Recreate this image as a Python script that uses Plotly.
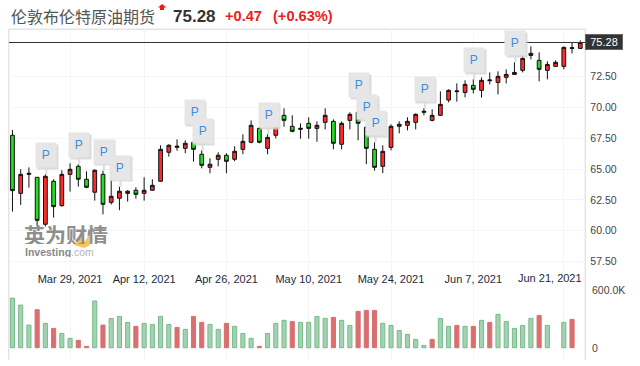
import plotly.graph_objects as go

W, H = 640, 366

TITLE = "伦敦布伦特原油期货"
LAST = 75.28
CHANGE = "+0.47"
CHANGE_PCT = "(+0.63%)"

highs = [68.18,64.99,65.15,64.34,64.58,64.18,64.91,65.48,65.40,64.83,64.99,64.88,64.26,63.58,63.29,63.53,64.34,64.18,66.94,67.02,
         67.42,67.34,68.07,66.53,65.88,66.37,66.29,66.86,67.83,68.96,68.40,67.83,68.99,69.94,69.37,68.72,69.21,68.88,69.94,69.04,
         68.88,69.61,70.26,68.48,67.18,66.94,68.64,68.88,69.21,69.53,69.94,69.86,71.31,71.48,71.96,72.21,72.29,72.45,72.85,72.94,
         73.10,73.67,74.31,74.96,74.48,73.75,73.83,74.96,75.29,75.45]
lows = [61.56,62.10,63.50,60.34,60.34,61.07,61.96,63.18,63.58,63.45,62.45,61.34,62.13,61.67,62.37,62.61,62.45,63.26,63.99,66.02,
        66.50,66.29,65.61,65.07,64.67,65.23,64.67,65.64,66.21,67.10,67.10,66.21,67.50,68.45,67.99,67.48,67.48,67.23,68.23,66.61,
        66.61,68.23,67.34,65.40,64.88,64.67,66.53,67.91,68.15,68.23,69.37,68.88,69.34,70.42,70.48,70.83,71.15,70.80,71.88,71.07,
        71.96,72.67,72.85,73.91,72.13,72.29,73.34,73.10,74.40,74.80]
opens = [67.75,63.04,64.58,64.34,60.53,64.02,62.04,64.58,65.23,64.18,63.13,64.58,62.31,62.64,63.04,63.29,63.04,63.29,64.02,66.37,
         66.77,66.69,67.18,66.21,65.15,65.80,66.13,65.80,66.61,67.18,68.31,66.69,67.75,69.37,68.48,68.23,68.72,68.31,68.80,68.88,
         67.02,68.96,69.61,68.40,66.61,65.23,66.77,68.48,68.56,68.80,69.61,68.96,69.37,70.61,71.29,71.23,71.80,71.40,72.18,72.04,
         72.45,72.69,73.02,74.23,73.83,73.02,73.34,73.34,74.80,74.80]
closes = [63.26,64.58,64.66,60.85,64.42,61.96,64.58,64.99,64.18,63.53,64.91,62.15,62.80,63.21,63.21,62.96,63.29,63.69,66.61,66.94,
          66.86,67.10,66.61,65.31,65.40,66.13,65.64,66.45,67.26,68.56,67.18,67.58,68.56,68.96,68.07,68.31,68.31,68.56,69.37,67.10,
          68.72,69.45,68.72,66.69,65.15,66.45,68.48,68.64,68.88,69.45,69.69,69.37,70.26,71.40,71.34,71.88,71.48,72.21,72.23,72.53,
          72.69,72.85,73.99,74.40,73.10,73.50,73.67,74.88,74.85,75.28]

# volumes in thousands; None where no volume was drawn
volume_k = [513,441,234,393,252,200,148,97,76,14,483,234,303,324,262,221,252,241,324,241,
            210,190,324,262,241,190,252,221,148,97,14,148,252,283,272,262,262,324,303,314,
            283,231,376,386,386,252,231,179,138,86,24,86,303,221,231,221,221,283,262,345,
            272,200,231,303,334,231,None,262,293,None]
volume_up = [0,0,0,1,0,1,0,0,1,1,0,1,0,0,0,1,0,0,0,0,
             1,0,1,1,0,0,1,0,0,0,1,0,0,0,1,0,0,0,0,1,
             0,0,1,1,1,0,0,0,0,0,0,1,0,0,1,0,1,0,1,0,
             0,0,0,0,1,0,0,0,1,0]

tick_index = [7, 16, 26, 36, 46, 56, 67]
tick_labels = ["Mar 29, 2021", "Apr 12, 2021", "Apr 26, 2021", "May 10, 2021", "May 24, 2021", "Jun 7, 2021", "Jun 21, 2021"]
price_ticks = [57.5, 60, 62.5, 65, 67.5, 70, 72.5]
volume_ticks = [0, 600000]
volume_tick_labels = ["0", "600.0K"]
event_index = [4, 8, 11, 13, 22, 23, 31, 42, 43, 44, 50, 56, 61]

idx = list(range(len(closes)))
RED, GREEN = "#ff2b2b", "#22dd22"
GRID = "#f5f5f5"

fig = go.Figure()
fig.add_trace(go.Candlestick(
    x=idx, open=opens, high=highs, low=lows, close=closes, yaxis="y", xaxis="x",
    increasing=dict(line=dict(color="#111", width=1), fillcolor=RED),
    decreasing=dict(line=dict(color="#111", width=1), fillcolor=GREEN),
    whiskerwidth=0, showlegend=False))
fig.add_trace(go.Bar(
    x=idx, y=[None if v is None else v * 1000 for v in volume_k], yaxis="y2", xaxis="x", width=0.5,
    marker=dict(color=["#d96f6f" if u else "#a2d3ae" for u in volume_up],
                line=dict(color=["#d96f6f" if u else "#78b98c" for u in volume_up], width=1)),
    showlegend=False))


def py(y):
    return 1 - y / H


fig.update_layout(
    template="none",
    width=W, height=H, margin=dict(l=0, r=0, t=0, b=0), autosize=False,
    paper_bgcolor="white", plot_bgcolor="white", boxgap=0.35, bargap=0.4,
    font=dict(family="Liberation Sans", size=11, color="#333"),
    xaxis=dict(domain=[9 / W, 585.3 / W], range=[-0.42, 69.61], anchor="y", showgrid=True, gridcolor=GRID, gridwidth=1,
               tickmode="array", tickvals=tick_index, ticktext=tick_labels[:-1] + [""],
               ticklabelposition="inside", ticks="", showline=False, zeroline=False, rangeslider=dict(visible=False),
               tickfont=dict(family="Liberation Sans", size=11, color="#1d2a3a"), ticklabelstandoff=2),
    yaxis=dict(domain=[py(289.7), py(29.3)], range=[55.22, 76.35], side="right", anchor="x", tickmode="array",
               tickvals=price_ticks, ticktext=[f"{v:.2f}" for v in price_ticks], showgrid=True, gridcolor=GRID,
               zeroline=False, showline=False, ticks="", tickfont=dict(size=10.5, color="#444"), ticklabelstandoff=4),
    yaxis2=dict(domain=[py(360), py(289.7)], range=[-127000, 600000], side="right", anchor="x", tickmode="array",
                tickvals=volume_ticks, ticktext=["", ""], showgrid=True, gridcolor=GRID, zeroline=False,
                showline=False, ticks=""),
)

# frame
for s in [
    dict(x0=8.7, x1=8.7, y0=29, y1=360), dict(x0=585.3, x1=585.3, y0=29, y1=360), dict(x0=8.7, x1=585.3, y0=29.3, y1=29.3),
]:
    fig.add_shape(type="line", xref="paper", yref="paper", x0=s["x0"] / W, x1=s["x1"] / W, y0=py(s["y0"]), y1=py(s["y1"]),
                  line=dict(color="#e4e4e4", width=1.5), layer="below")
fig.add_shape(type="line", xref="paper", yref="y", x0=9 / W, x1=585 / W, y0=LAST, y1=LAST, line=dict(color="#333", width=1))
# up arrow icon
fig.add_shape(type="path", xref="paper", yref="paper", fillcolor="#f01a1a", line=dict(width=0),
              path="M {} {} L {} {} L {} {} L {} {} L {} {} L {} {} L {} {} Z".format(
                  158 / W, py(7.6), 162 / W, py(4), 166.5 / W, py(7.6), 164 / W, py(7.6), 164 / W, py(10), 160 / W, py(10), 160 / W, py(7.6)))
# watermark orange stroke
fig.add_shape(type="path", xref="paper", yref="paper", fillcolor="#f7c35f", line=dict(width=0), layer="above",
              path="M {} {} L {} {} L {} {} L {} {} L {} {} L {} {} Z".format(
                  74 / W, py(245), 82 / W, py(236), 85 / W, py(242), 93 / W, py(226), 90 / W, py(245), 84 / W, py(248)))


def note(text, x, y, size, color, family="Liberation Sans", bold=False, anchor="left", height=None):
    fig.add_annotation(xref="paper", yref="paper", x=x / W, y=py(y), text=f"<b>{text}</b>" if bold else text, showarrow=False,
                       xanchor=anchor, yanchor="middle", align="left", height=height, font=dict(size=size, color=color, family=family))


note(TITLE, 8.5, 16, 16, "#555", "Noto Sans CJK SC")
note(f"{LAST:.2f}", 170.5, 16.5, 17, "#333", bold=True)
note(CHANGE, 222.5, 16.5, 14.6, "#f01c1c", bold=True)
note(CHANGE_PCT, 270.5, 16.5, 14.6, "#f01c1c", bold=True)
note("英为财情", 21.5, 234, 21, "#8e8e8e", "Noto Sans CJK SC", bold=True, height=20)
note("<b>Investing</b><span style='color:#b5b5b5'>.com</span>", 22.5, 251, 10.5, "#888", height=11)
note(tick_labels[-1], 584, 278, 11, "#1d2a3a", anchor="right")

for v, t in zip(volume_ticks, volume_tick_labels):
    fig.add_annotation(xref="paper", yref="y2", x=589.5 / W, y=v, text=t, showarrow=False, xanchor="left", yanchor="middle",
                       font=dict(size=10.5, color="#444"))

fig.add_annotation(xref="paper", yref="y", x=584.5 / W, y=LAST, text=f"{LAST:.2f}", showarrow=False, xanchor="left", yanchor="middle",
                   width=37, height=15, bgcolor="#333", bordercolor="#666", borderwidth=0.5, borderpad=0,
                   font=dict(size=11, color="white"))

for i in event_index:
    common = dict(x=i, y=highs[i], xref="x", yref="y", width=17.5, height=22)
    fig.add_annotation(**common, text=" ", xshift=2.5, yshift=17.5, bgcolor="#d3d3d3", showarrow=False, opacity=0.8)
    fig.add_annotation(**common, text="P", ax=0, ay=-19, axref="pixel", ayref="pixel", xshift=1, bgcolor="#e6e6e6", showarrow=True,
                       arrowhead=0, arrowwidth=2, arrowcolor="#dcdcdc", standoff=0,
                       font=dict(size=12, color="#3c8ddd", family="Liberation Sans"))

fig.write_html("out.html", config=dict(displayModeBar=False), post_script="document.body.style.margin='0';")
